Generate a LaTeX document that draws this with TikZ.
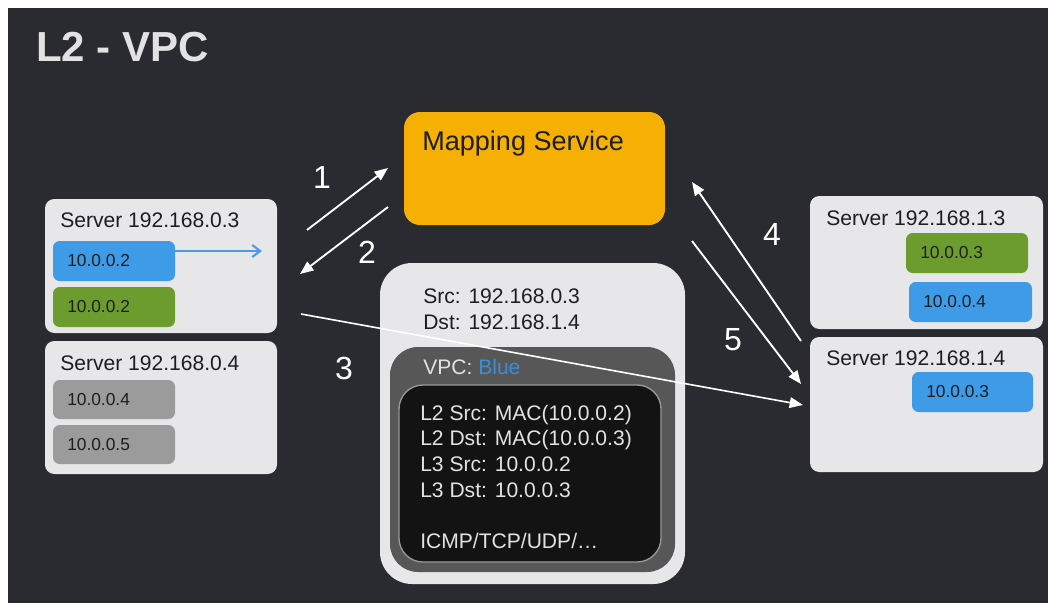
\documentclass[tikz,border=0pt]{standalone}
\usepackage{fontspec}
\setmainfont{Liberation Sans}
\usetikzlibrary{arrows.meta,fit}

\definecolor{slide}{HTML}{2A2B30}
\definecolor{panel}{HTML}{E7E7E9}
\definecolor{mapping}{HTML}{F5B003}
\definecolor{vpcblue}{HTML}{3E9BE8}
\definecolor{vpcgreen}{HTML}{6C9C2E}
\definecolor{vpcgray}{HTML}{9B9B9B}
\definecolor{framegray}{HTML}{575757}
\definecolor{payload}{HTML}{131313}
\definecolor{inkdark}{HTML}{1E1E1E}
\definecolor{inklight}{HTML}{E2E2E2}
\definecolor{bluetext}{HTML}{3A8FD8}
\definecolor{bluelink}{HTML}{4A9BE0}

\begin{document}
\begin{tikzpicture}[x=0.75pt,y=-0.75pt,
  panelbox/.style={inner sep=0pt, fill=panel, rounded corners=7pt},
  chipbox/.style={inner sep=0pt, rounded corners=5pt},
  lbl/.style={anchor=base west, inner sep=0pt, font=\fontsize{15.8}{19}\selectfont, text=inkdark},
  chiptext/.style={anchor=base west, inner sep=0pt, font=\fontsize{13}{15}\selectfont, text=inkdark},
  payloadtext/.style={anchor=base west, inner sep=0pt, font=\fontsize{15.8}{19}\selectfont, text=inklight},
  flow/.style={draw=white, line width=1.4pt, -{Triangle[length=10pt,width=8pt]}},
  stepnum/.style={inner sep=0pt, text=white, font=\fontsize{24}{28}\selectfont}]

\useasboundingbox (0,0) rectangle (1049,603);
\fill[white] (0,0) rectangle (1049,603);
\fill[slide] (8,8) rectangle (1048,603);

% title
\node[anchor=base west, inner sep=0pt, text=inklight,
      font=\fontsize{31.5}{36}\selectfont\bfseries] (title) at (36,61) {L2 - VPC};

% mapping service
\node[fit={(404,112) (665,225)}, inner sep=0pt, fill=mapping, rounded corners=12pt] (map) {};
\node[anchor=base west, inner sep=0pt, text=inkdark, font=\fontsize{20.3}{24}\selectfont]
  (maplbl) at (422,150) {Mapping Service};

% left servers
\node[fit={(45,199) (277,333)}, panelbox] (s03) {};
\node[lbl] (s03lbl) at (60,227) {Server 192.168.0.3};
\node[fit={(53,241) (175,281)}, chipbox, fill=vpcblue] (s03a) {};
\node[chiptext] (s03atxt) at (67,266.5) {10.0.0.2};
\node[fit={(53,287) (175,327)}, chipbox, fill=vpcgreen] (s03b) {};
\node[chiptext] (s03btxt) at (67,312.5) {10.0.0.2};
\coordinate (s03out) at (262,251);
\draw[bluelink, line width=1.6pt, -{Straight Barb[length=6pt,width=9pt]}] (s03a.east |- s03out) -- (s03out);

\node[fit={(45,341) (277,474)}, panelbox] (s04) {};
\node[lbl] (s04lbl) at (60,370) {Server 192.168.0.4};
\node[fit={(53,380) (175,419)}, chipbox, fill=vpcgray] (s04a) {};
\node[chiptext] (s04atxt) at (67,405) {10.0.0.4};
\node[fit={(53,425) (175,464)}, chipbox, fill=vpcgray] (s04b) {};
\node[chiptext] (s04btxt) at (67,450) {10.0.0.5};

% right servers
\node[fit={(810,196) (1043,329)}, panelbox] (s13) {};
\node[lbl] (s13lbl) at (826,225) {Server 192.168.1.3};
\node[fit={(906,233) (1028,273)}, chipbox, fill=vpcgreen] (s13a) {};
\node[chiptext] (s13atxt) at (920,258.5) {10.0.0.3};
\node[fit={(909,282) (1032,322)}, chipbox, fill=vpcblue] (s13b) {};
\node[chiptext] (s13btxt) at (923,307.5) {10.0.0.4};

\node[fit={(810,337) (1043,472)}, panelbox] (s14) {};
\node[lbl] (s14lbl) at (826,365) {Server 192.168.1.4};
\node[fit={(912,372) (1033,412)}, chipbox, fill=vpcblue] (s14a) {};
\node[chiptext] (s14atxt) at (926,397.5) {10.0.0.3};

% encapsulated packet
\node[fit={(380,263) (685,584)}, inner sep=0pt, fill=panel, rounded corners=24pt] (pkt) {};
\node[lbl] (pktsrc) at (423,303) {Src: 192.168.0.3};
\node[lbl] (pktdst) at (423,329) {Dst: 192.168.1.4};
\node[fit={(390,347) (675,572)}, inner sep=0pt, fill=framegray, rounded corners=21pt] (vpc) {};
\node[payloadtext] (vpclbl) at (423,374) {VPC: \textcolor{bluetext}{Blue}};
\node[fit={(399,385) (661,562)}, inner sep=0pt, fill=payload, draw=gray!80, line width=1pt,
      rounded corners=18pt] (inner) {};
\node[payloadtext] (l2src) at (420,420) {L2 Src: MAC(10.0.0.2)};
\node[payloadtext] (l2dst) at (420,445.5) {L2 Dst: MAC(10.0.0.3)};
\node[payloadtext] (l3src) at (420,471.5) {L3 Src: 10.0.0.2};
\node[payloadtext] (l3dst) at (420,497) {L3 Dst: 10.0.0.3};
\node[payloadtext] (proto) at (420,548) {ICMP/TCP/UDP/\dots};

% flow end points
\coordinate (a1s) at (307,230);
\coordinate (a1e) at (388,168);
\coordinate (a2s) at (388,207);
\coordinate (a2e) at (300,274);
\coordinate (a3s) at (301,314);
\coordinate (a3e) at (803,405);
\coordinate (a4s) at (801,341);
\coordinate (a4e) at (692,182);
\coordinate (a5s) at (692,241);
\coordinate (a5e) at (801,384);

\draw[flow] (a1s) -- (a1e);
\draw[flow] (a2s) -- (a2e);
\draw[flow, line width=1.2pt] (a3s) -- (a3e);
\draw[flow] (a4s) -- (a4e);
\draw[flow] (a5s) -- (a5e);

\node[stepnum] (n1) at (322,177) {1};
\node[stepnum] (n2) at (367,252) {2};
\node[stepnum] (n3) at (344,368) {3};
\node[stepnum] (n4) at (772,234) {4};
\node[stepnum] (n5) at (733,340) {5};
\end{tikzpicture}
\end{document}
